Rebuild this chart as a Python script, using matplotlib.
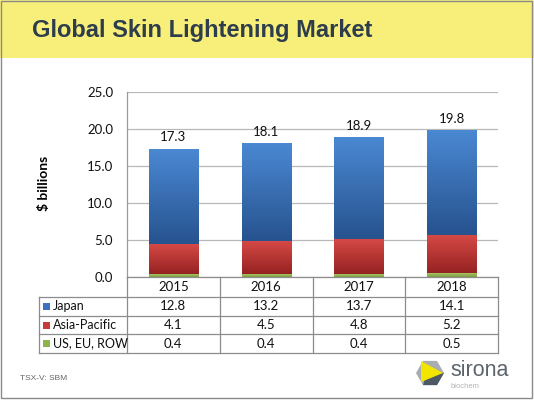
import numpy as np
import matplotlib
matplotlib.use("Agg")
import matplotlib.pyplot as plt
from matplotlib.lines import Line2D
from matplotlib.patches import Rectangle, Polygon
from matplotlib.colors import LinearSegmentedColormap
from matplotlib.transforms import blended_transform_factory

years = ["2015", "2016", "2017", "2018"]
series_names = ["Japan", "Asia-Pacific", "US, EU, ROW"]
japan = [12.8, 13.2, 13.7, 14.1]
asia_pacific = [4.1, 4.5, 4.8, 5.2]
us_eu_row = [0.4, 0.4, 0.4, 0.5]
totals = [17.3, 18.1, 18.9, 19.8]
y_ticks = [0, 5, 10, 15, 20, 25]

title = "Global Skin Lightening Market"
y_label = "$ billions"
footer = "TSX-V: SBM"

W, H = 534, 400
BODY = "Lato"
HEAD = "Liberation Sans"
FS = 9.5

# stacking order bottom -> top, with (top colour, bottom colour) for the gradient
stack = [
    (us_eu_row, ("#a4c462", "#7f9c3e")),
    (asia_pacific, ("#d64a46", "#962222")),
    (japan, ("#4a88d2", "#27538f")),
]
swatch = {"Japan": "#3a72c0", "Asia-Pacific": "#c83a38", "US, EU, ROW": "#8db44a"}


def fx(px):
    return px / W


def fy(py):
    return 1 - py / H


fig = plt.figure(figsize=(W / 100, H / 100), dpi=100)
fig.patch.set_facecolor("white")

# yellow title band
fig.add_artist(Rectangle((0, fy(58)), 1, 1 - fy(58), transform=fig.transFigure,
                         facecolor="#f8ee7a", edgecolor="none", zorder=0))
fig.text(fx(32), fy(30), title, fontsize=17, fontweight="bold", family=HEAD,
         color="#2e3d4b", va="center", ha="left")

# slide frame
fig.add_artist(Rectangle((fx(1), fy(398)), fx(531), fy(1) - fy(398),
                         transform=fig.transFigure, facecolor="none",
                         edgecolor="#8a8a8a", linewidth=1.0, zorder=5))

ax_l, ax_r, ax_t, ax_b = 127, 498, 92, 277
ax = fig.add_axes([fx(ax_l), fy(ax_b), fx(ax_r - ax_l), fy(ax_t) - fy(ax_b)])
ax.set_facecolor("none")

x = np.arange(len(years))
width = 0.53
bottom = np.zeros(len(years))
for values, (c_top, c_bot) in stack:
    vals = np.array(values)
    bars = ax.bar(x, vals, width, bottom=bottom, color=c_top, edgecolor="none", zorder=2)
    cmap = LinearSegmentedColormap.from_list("g", [c_bot, c_top])
    grad = np.linspace(0, 1, 64).reshape(-1, 1)
    for b in bars:
        bx, by = b.get_x(), b.get_y()
        bw, bh = b.get_width(), b.get_height()
        im = ax.imshow(grad, extent=(bx, bx + bw, by, by + bh), origin="lower",
                       cmap=cmap, aspect="auto", zorder=3, interpolation="bilinear")
        im.set_clip_path(b)
    bottom += vals

for xi, tot in zip(x, totals):
    ax.annotate(f"{tot:.1f}", (xi, tot), xytext=(0, 4), textcoords="offset points",
                ha="center", va="bottom", fontsize=FS, family=BODY, color="#111111")

ax.set_xlim(-0.5, len(years) - 0.5)
ax.set_ylim(0, 25)
ax.set_yticks(y_ticks)
ax.set_yticklabels([f"{t:.1f}" for t in y_ticks], fontsize=FS, family=BODY)
ax.set_xticks([])
ax.yaxis.grid(True, color="#b8b8b8", linewidth=0.9, zorder=0)
ax.set_axisbelow(True)
ax.tick_params(axis="y", length=0, pad=10, colors="#111111")
for s in ["top", "right", "bottom"]:
    ax.spines[s].set_visible(False)
ax.spines["left"].set_color("#9a9a9a")
ax.spines["left"].set_linewidth(0.9)
ax.set_ylabel(y_label, fontsize=10, fontweight="bold", family=BODY)
ax.yaxis.set_label_coords((50 - ax_l) / (ax_r - ax_l), (ax_b - 183) / (ax_b - ax_t))

# data table under the plot
line_c = "#8c8c8c"
tab_l = 39
row_edges = [277, 297, 316, 334, 353]
col_edges = [ax_l + i * (ax_r - ax_l) / len(years) for i in range(len(years) + 1)]


def hline(x0, x1, py):
    fig.add_artist(Line2D([fx(x0), fx(x1)], [fy(py), fy(py)], transform=fig.transFigure,
                          color=line_c, linewidth=0.9))


def vline(px, y0, y1):
    fig.add_artist(Line2D([fx(px), fx(px)], [fy(y0), fy(y1)], transform=fig.transFigure,
                          color=line_c, linewidth=0.9))


hline(ax_l, ax_r, row_edges[0])
for py in row_edges[1:]:
    hline(tab_l, ax_r, py)
for px in col_edges:
    vline(px, row_edges[0], row_edges[-1])
vline(tab_l, row_edges[1], row_edges[-1])

trans = blended_transform_factory(ax.transData, fig.transFigure)
hdr_y = fy((row_edges[0] + row_edges[1]) / 2)
for xi, yr in zip(x, years):
    fig.text(xi, hdr_y, yr, transform=trans, ha="center", va="center",
             fontsize=FS, family=BODY, color="#111111")

table_rows = [japan, asia_pacific, us_eu_row]
for r, (name, vals) in enumerate(zip(series_names, table_rows)):
    cy = (row_edges[r + 1] + row_edges[r + 2]) / 2
    fig.add_artist(Rectangle((fx(43), fy(cy + 3.5)), fx(7), fy(cy - 3.5) - fy(cy + 3.5),
                             transform=fig.transFigure, facecolor=swatch[name],
                             edgecolor="none"))
    fig.text(fx(53), fy(cy), name, ha="left", va="center", fontsize=9,
             family=BODY, color="#111111")
    for xi, v in zip(x, vals):
        fig.text(xi, fy(cy), f"{v:.1f}", transform=trans, ha="center", va="center",
                 fontsize=FS, family=BODY, color="#111111")

# footer
fig.text(fx(20), fy(379), footer, fontsize=6, family=HEAD, color="#666666",
         ha="left", va="center")

# sirona logo
cx, cy, rad = 430, 373, 14
ang = np.deg2rad(np.arange(0, 360, 60))
hexpts = [(fx(cx + rad * np.cos(a)), fy(cy + rad * np.sin(a))) for a in ang]
fig.add_artist(Polygon(hexpts, closed=True, transform=fig.transFigure,
                       facecolor="#a9adb2", edgecolor="none"))
low = [hexpts[0], hexpts[1], hexpts[2], (fx(cx - 4), fy(cy + 2))]
fig.add_artist(Polygon(low, closed=True, transform=fig.transFigure,
                       facecolor="#4d5964", edgecolor="none"))
tri = [(fx(cx - 9), fy(cy - 12)), (fx(cx + 13), fy(cy)), (fx(cx - 9), fy(cy + 9))]
fig.add_artist(Polygon(tri, closed=True, transform=fig.transFigure,
                       facecolor="#f2e500", edgecolor="none"))
fig.text(fx(450), fy(370), "sirona", fontsize=15.5, family=HEAD, color="#5d646c",
         ha="left", va="center")
fig.text(fx(451), fy(387), "biochem", fontsize=5.5, family=HEAD, color="#b0b4b8",
         ha="left", va="center")

fig.savefig("out.png", dpi=100)
